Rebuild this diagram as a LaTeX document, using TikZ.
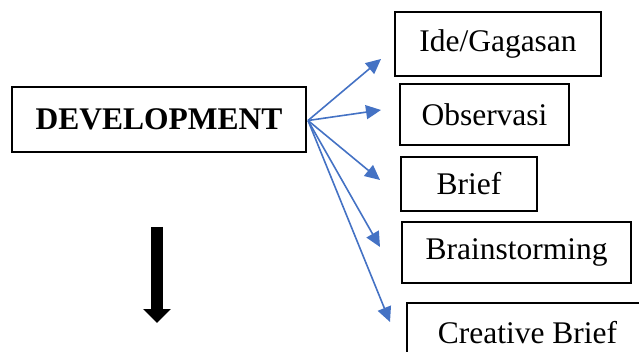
\documentclass[tikz,border=0pt]{standalone}
\usepackage{fontspec}
\setmainfont{Liberation Serif}
\usetikzlibrary{arrows.meta}
\usetikzlibrary{positioning}
\definecolor{officeblue}{RGB}{68,114,196}

\tikzset{
  stagebox/.style={draw=black,line width=1.1pt,fill=white,inner sep=0pt,
    font=\fontsize{31.5}{36}\selectfont},
  branch/.style={officeblue,line width=1.6pt,-{Triangle[length=15pt,width=14pt]}},
  downarrow/.style={black,line width=12pt,-{Triangle[length=14pt,width=27pt]}}
}

\begin{document}
\begin{tikzpicture}[x=1pt,y=-1pt]
\useasboundingbox (0,0) rectangle (639,352);
\clip (0,0) rectangle (639,352);

\node[stagebox,minimum width=294pt,minimum height=65pt,font=\fontsize{31.5}{36}\selectfont\bfseries] (dev) at (159,119.5) {DEVELOPMENT};

\node[stagebox,minimum width=206pt,minimum height=64pt] (ide) at (498,44) {Ide/Gagasan};
\node[stagebox,minimum width=169pt,minimum height=61pt] (obs) at (484.5,114.5) {Observasi};
\node[stagebox,minimum width=136pt,minimum height=54pt] (brief) at (469,184) {Brief};
\node[stagebox,minimum width=229pt,minimum height=61pt] (brain) at (516.5,252.5) {Brainstorming};
\node[stagebox,minimum width=241pt,minimum height=60pt] (cbrief) at (527.5,333) {Creative Brief};

% arrow tips stop short of the boxes
\coordinate (to ide) at (381,59);
\coordinate (to obs) at (381,110);
\coordinate (to brief) at (380,180);
\coordinate (to brain) at (380,247);
\coordinate (to cbrief) at (390,322);
\coordinate (from dev) at (308,120.5);

\draw[branch] (from dev) -- (to ide);
\draw[branch] (from dev) -- (to obs);
\draw[branch] (from dev) -- (to brief);
\draw[branch] (from dev) -- (to brain);
\draw[branch] (from dev) -- (to cbrief);

\coordinate (down top) at (157,227);
\coordinate (down tip) at (157,323);
\draw[downarrow] (down top) -- (down tip);

\end{tikzpicture}
\end{document}
